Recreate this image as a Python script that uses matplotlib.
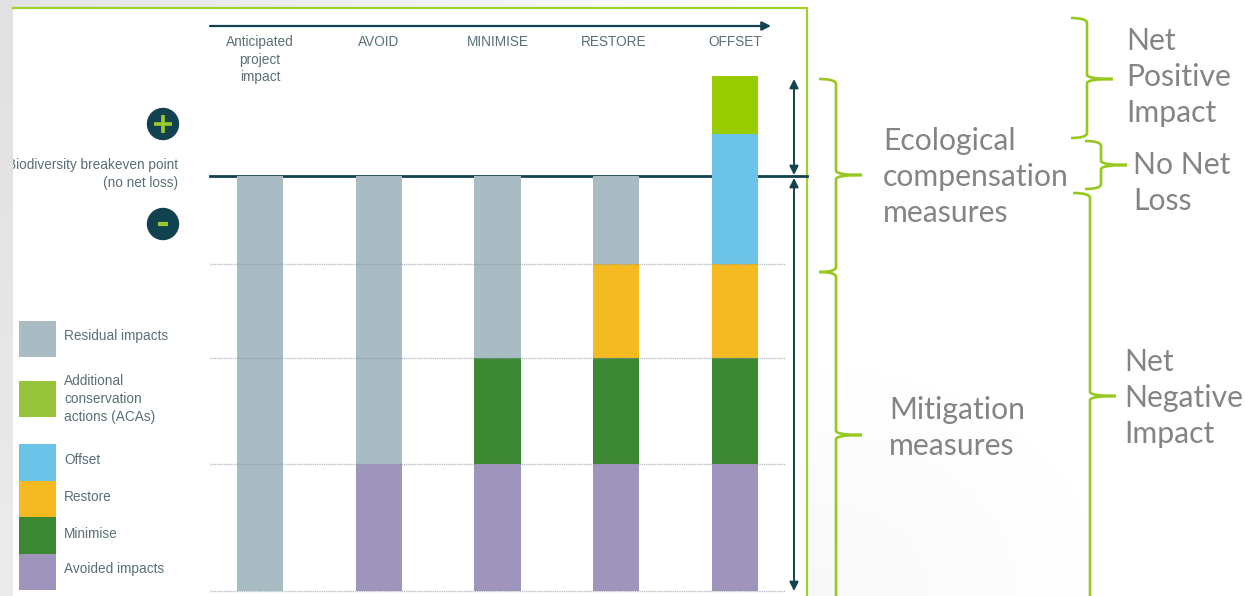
#!/usr/bin/env python3
"""Mitigation hierarchy chart: stacked columns with annotation braces"""

import numpy as np
import matplotlib
matplotlib.use('Agg')
import matplotlib.pyplot as plt
from matplotlib.patches import Circle, PathPatch, Rectangle
from matplotlib.path import Path

plt.rcParams['font.family'] = ['Liberation Sans', 'DejaVu Sans']

# data
categories = ['Anticipated\nproject\nimpact', 'AVOID', 'MINIMISE', 'RESTORE', 'OFFSET']
avoided = [0, 127, 127, 127, 127]
minimise = [0, 0, 106, 106, 106]
restore = [0, 0, 0, 94, 94]
offset = [0, 0, 0, 0, 130]
acas = [0, 0, 0, 0, 58]
residual = [415, 288, 182, 88, 0]
gridline_levels = [0, 127, 233, 327]

series_names = ['Avoided impacts', 'Minimise', 'Restore', 'Offset',
                'Additional\nconservation\nactions (ACAs)', 'Residual impacts']
series_values = [avoided, minimise, restore, offset, acas, residual]

# colours
dark = '#12424f'
frame_green = '#a3cf2a'
brace_green = '#96c81e'
label_color = '#5a6f76'
big_text = '#848484'
colors = ['#9f94bb', '#3c8732', '#f5b921', '#6bc4e8', '#99cc00', '#aabcc3']

W, H = 1245, 596
fig = plt.figure(figsize=(W / 100, H / 100), dpi=100, facecolor='white')

# overlay axes in picture pixels
ax = fig.add_axes([0, 0, 1, 1], zorder=1)
ax.set_xlim(0, W)
ax.set_ylim(H, 0)
ax.axis('off')

# background: grey strips round the frame and a faint corner shade
top_band = np.linspace(0.89, 1.0, 128).reshape(1, -1)
ax.imshow(top_band, extent=(0, 830, 8, 0), cmap='gray', vmin=0, vmax=1, aspect='auto', zorder=0)
left_band = np.linspace(0.88, 0.92, 64).reshape(-1, 1)
ax.imshow(left_band, extent=(0, 13, H, 0), cmap='gray', vmin=0, vmax=1, aspect='auto', zorder=0)
gx, gy = np.meshgrid(np.linspace(0, 1, 80), np.linspace(1, 0, 60))
corner = 1 - 0.03 * np.clip(1 - np.hypot(gx, gy), 0, 1)
ax.imshow(corner, extent=(807, 1150, H, 330), cmap='gray', vmin=0, vmax=1, aspect='auto', zorder=0)
ax.set_xlim(0, W)
ax.set_ylim(H, 0)

# green frame, open at the bottom
ax.plot([13, 807, 807], [8, 8, H], color=frame_green, lw=1.6, zorder=1, solid_joinstyle='miter')

# stacked columns, on their own axes between x 210-785 and y 591-76 px
ax_bars = fig.add_axes([210 / W, (H - 591) / H, 575 / W, 515 / H], zorder=2)
ax_bars.patch.set_visible(False)
ax_bars.set_xlim(-0.421, 4.42)
ax_bars.set_ylim(0, 515)
ax_bars.axis('off')
xpos = np.arange(len(categories))
bottom = np.zeros(len(categories))
for vals, col in zip(series_values, colors):
    ax_bars.bar(xpos, vals, width=0.39, bottom=bottom, color=col, linewidth=0, zorder=2)
    bottom = bottom + np.array(vals)
ax_bars.hlines(gridline_levels, -0.421, 4.42, color='#8a9ca3', lw=1, ls=(0, (1, 0.6)),
               alpha=0.6, zorder=3, clip_on=False)
for x, name in zip([260, 378.5, 497.5, 614, 735.5], categories):
    ax.text(x, 35, name, fontsize=9.8, color=label_color, ha='center', va='top', linespacing=1.32)

# breakeven line and arrows
ax.plot([210, 807], [176, 176], color=dark, lw=2, zorder=5)
ax.annotate('', xy=(771, 26), xytext=(210, 26),
            arrowprops=dict(arrowstyle='-|>', color=dark, lw=1.6, shrinkA=0, shrinkB=0,
                            mutation_scale=13), zorder=5)
for y0, y1 in [(79, 175), (178, 591)]:
    ax.annotate('', xy=(794, y1), xytext=(794, y0),
                arrowprops=dict(arrowstyle='<|-|>', color=dark, lw=1.4, shrinkA=0, shrinkB=0,
                                mutation_scale=13), zorder=5)

# plus and minus badges
ax.add_patch(Circle((163, 124), 15.5, color=dark, zorder=5))
ax.plot([154, 172], [124, 124], color='#9acb2c', lw=2.6, zorder=6, solid_capstyle='butt')
ax.plot([163, 163], [115, 133], color='#9acb2c', lw=2.6, zorder=6, solid_capstyle='butt')
ax.add_patch(Circle((163, 224), 15.5, color=dark, zorder=5))
ax.plot([158, 168], [224, 224], color='#9acb2c', lw=3, zorder=6, solid_capstyle='butt')

breakeven = ax.text(178, 174, 'Biodiversity breakeven point\n(no net loss)', fontsize=9.8,
                    color=label_color, ha='right', va='center', linespacing=1.32)
breakeven.set_clip_on(True)
breakeven.set_clip_path(Rectangle((13, 150), 180, 50, transform=ax.transData))

# legend
legend_boxes = [(321, 36, 5, 336), (381, 36, 4, 399), (444, 37, 3, 460),
                (481, 36, 2, 497), (517, 37, 1, 534), (554, 36, 0, 569)]
legend_colors = ['#9f94bb', '#3c8732', '#f5b921', '#6bc4e8', '#97c43a', '#aabcc3']
for y, h, idx, text_y in legend_boxes:
    ax.add_patch(Rectangle((19, y), 37, h, facecolor=legend_colors[idx], edgecolor='none', zorder=3))
    ax.text(64, text_y, series_names[idx], fontsize=9.8, color=label_color,
            ha='left', va='center', linespacing=1.32)


def brace(x0, x1, y0, y1, ymid, tip):
    """Curly bracket opening left, with a thin pointer towards the label"""
    verts = [(x0, y0), (x1, y0), (x1, y0 + 5),
             (x1, ymid - 4), (x1 + 1, ymid), (tip, ymid),
             (x1 + 1, ymid), (x1, ymid + 4),
             (x1, y1 - 5), (x1, y1), (x0, y1)]
    codes = [Path.MOVETO, Path.CURVE3, Path.CURVE3,
             Path.LINETO, Path.CURVE3, Path.CURVE3,
             Path.CURVE3, Path.CURVE3,
             Path.LINETO, Path.CURVE3, Path.CURVE3]
    ax.add_patch(PathPatch(Path(verts, codes), fill=False, edgecolor=brace_green, lw=1.9, zorder=4))


brace(1071, 1087, 18, 138, 79, 1113)
brace(1085, 1101, 141, 189, 165, 1127)
brace(819, 836, 79, 272, 175, 862)
brace(819, 836, 272, 640, 435, 862)
brace(1073, 1090, 193, 640, 396, 1116)

# big annotation labels
big_labels = [
    (883, 177, 'Ecological\ncompensation\nmeasures'),
    (889, 428, 'Mitigation\nmeasures'),
    (1126, 77, 'Net\nPositive\nImpact'),
    (1133, 183, 'No Net\nLoss'),
    (1124, 398, 'Net\nNegative\nImpact'),
]
for x, y, txt in big_labels:
    ax.text(x, y, txt, fontsize=21.7, color=big_text, ha='left', va='center', linespacing=1.36,
            family=['Lato', 'DejaVu Sans'])

plt.savefig('out.png', dpi=100, facecolor='white')
plt.close()
